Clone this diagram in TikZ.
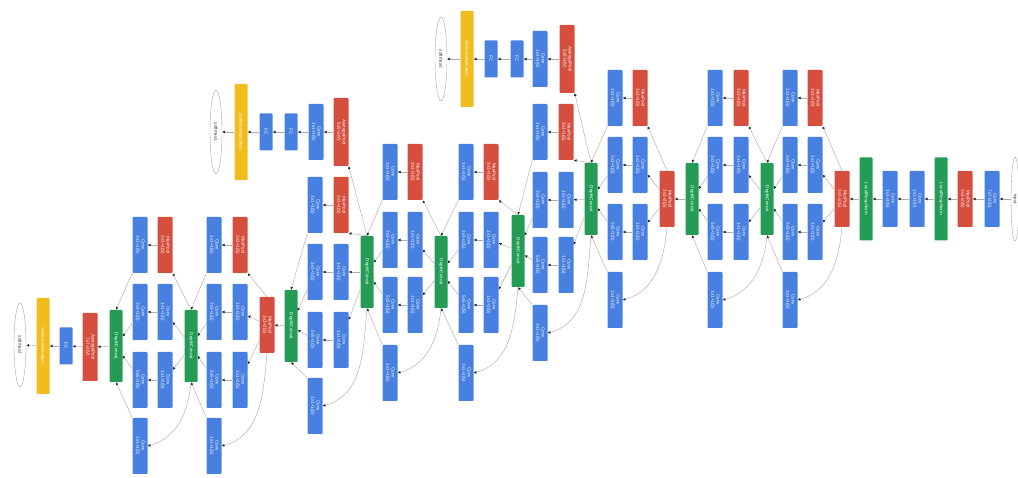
\documentclass[tikz,border=0pt]{standalone}
\usepackage{fontspec}
\setmainfont{Liberation Sans}
\usetikzlibrary{shapes.geometric,arrows.meta}
\definecolor{gblue}{RGB}{72,128,226}
\definecolor{gred}{RGB}{214,78,62}
\definecolor{ggreen}{RGB}{36,156,86}
\definecolor{gyellow}{RGB}{240,188,30}
\newcommand{\lbl}[2]{\rotatebox{-90}{\begin{tabular}{@{}c@{}}#1\\#2\end{tabular}}}
\newcommand{\lbx}[1]{\rotatebox{-90}{#1}}
\tikzset{
  lay/.style={rectangle, inner sep=0pt, minimum width=15pt, minimum height=56pt,
    text=white, font=\fontsize{4.5}{5.2}\selectfont, rounded corners=0.8pt},
  conv/.style={lay, fill=gblue},
  pool/.style={lay, fill=gred},
  concat/.style={lay, fill=ggreen, minimum width=13pt, minimum height=72pt},
  lrn/.style={lay, fill=ggreen, minimum width=13pt, minimum height=83pt},
  fc/.style={lay, fill=gblue, minimum width=13pt, minimum height=37pt},
  avg/.style={pool, minimum height=68pt},
  soft/.style={lay, fill=gyellow, minimum width=13pt, minimum height=96pt},
  io/.style={ellipse, draw=gray!70, line width=0.4pt, fill=white, inner sep=0pt,
    minimum width=12pt, minimum height=84pt, text=black!80, font=\fontsize{4.5}{5.2}\selectfont},
  e/.style={draw=gray!65, line width=0.45pt, -{Latex[length=2.8pt,width=2.8pt,color=black!85]}}
}
\newcommand{\incep}[9]{%
  \node[pool] (#1r1) at (#5,#6) {\lbl{MaxPool}{3x3+1(S)}};
  \node[conv] (#1r2) at (#5,#7) {\lbl{Conv}{1x1+1(S)}};
  \node[conv] (#1r3) at (#5,#8) {\lbl{Conv}{1x1+1(S)}};
  \node[conv] (#1l1) at (#4,#6) {\lbl{Conv}{1x1+1(S)}};
  \node[conv] (#1l2) at (#4,#7) {\lbl{Conv}{3x3+1(S)}};
  \node[conv] (#1l3) at (#4,#8) {\lbl{Conv}{5x5+1(S)}};
  \node[conv] (#1l4) at (#4,#9) {\lbl{Conv}{1x1+1(S)}};
  \draw[e] (#2.north) -- (#1r1.south east);
  \draw[e] (#2) -- (#1r2);
  \draw[e] (#2) -- (#1r3);
  \draw[e] (#2.south) to[out=-95,in=15] (#1l4.east);
  \draw[e] (#1r1) -- (#1l1);
  \draw[e] (#1r2) -- (#1l2);
  \draw[e] (#1r3) -- (#1l3);
  \draw[e] (#1l1.south west) -- (#3.north);
  \draw[e] (#1l2) -- (#3);
  \draw[e] (#1l3) -- (#3);
  \draw[e] (#1l4.north west) -- (#3.south);
}
\begin{document}
\begin{tikzpicture}[x=1pt,y=1pt]
\useasboundingbox (0,0) rectangle (1018,478);
% stem
\node[io, minimum width=8pt] (input) at (1015,279) {\lbx{input}};
\node[conv] (c7) at (992,279) {\lbl{Conv}{7x7+2(S)}};
\node[pool] (mp1) at (965,279) {\lbl{MaxPool}{3x3+2(S)}};
\node[lrn] (lrn1) at (941,279) {\lbx{LocalRespNorm}};
\node[conv] (cv1) at (917,279) {\lbl{Conv}{1x1+1(V)}};
\node[conv] (cv3) at (890,279) {\lbl{Conv}{3x3+1(S)}};
\node[lrn] (lrn2) at (866,279) {\lbx{LocalRespNorm}};
\node[pool] (mp2) at (842,279) {\lbl{MaxPool}{3x3+2(S)}};
% concat and pool nodes of the main line
\node[concat] (c3a) at (767,279) {\lbx{DepthConcat}};
\node[concat] (c3b) at (692,279) {\lbx{DepthConcat}};
\node[pool] (mp3) at (667,279) {\lbl{MaxPool}{3x3+2(S)}};
\node[concat] (c4a) at (591,279) {\lbx{DepthConcat}};
\node[concat] (c4b) at (518,227) {\lbx{DepthConcat}};
\node[concat] (c4c) at (441,206) {\lbx{DepthConcat}};
\node[concat] (c4d) at (367,206) {\lbx{DepthConcat}};
\node[concat] (c4e) at (291,152) {\lbx{DepthConcat}};
\node[pool] (mp4) at (267,153) {\lbl{MaxPool}{3x3+2(S)}};
\node[concat] (c5a) at (191,132) {\lbx{DepthConcat}};
\node[concat] (c5b) at (116,132) {\lbx{DepthConcat}};
\node[avg] (ap) at (90,131) {\lbl{AveragePool}{7x7+1(V)}};
\node[fc] (fc) at (66,132) {\lbx{FC}};
\node[soft] (sm) at (43,132) {\lbx{SoftmaxActivation}};
\node[io] (out) at (20,133) {\lbx{softmax2}};
% stem edges
\draw[e] (input) -- (c7);
\draw[e] (c7) -- (mp1);
\draw[e] (mp1) -- (lrn1);
\draw[e] (lrn1) -- (cv1);
\draw[e] (cv1) -- (cv3);
\draw[e] (cv3) -- (lrn2);
\draw[e] (lrn2) -- (mp2);
\draw[e] (c3b) -- (mp3);
\draw[e] (c4e) -- (mp4);
\draw[e] (c5b) -- (ap);
\draw[e] (ap) -- (fc);
\draw[e] (fc) -- (sm);
\draw[e] (sm) -- (out);
% inception modules
\incep{i3a}{mp2}{c3a}{790}{815}{380}{313}{246}{178}
\incep{i3b}{c3a}{c3b}{715}{741}{380}{313}{246}{178}
\incep{i4a}{mp3}{c4a}{615}{640}{380}{313}{246}{178}
\incep{i4b}{c4a}{c4b}{540}{566}{346}{278}{213}{145}
\incep{i4c}{c4b}{c4c}{466}{491}{306}{238}{173}{105}
\incep{i4d}{c4c}{c4d}{390}{415}{306}{238}{173}{105}
\incep{i4e}{c4d}{c4e}{315}{341}{273}{206}{138}{72}
\incep{i5a}{mp4}{c5a}{214}{240}{233}{166}{98}{32}
\incep{i5b}{c5a}{c5b}{140}{165}{233}{166}{98}{32}
% auxiliary classifier 0
\node[avg] (a0p) at (567,419) {\lbl{AveragePool}{5x5+3(V)}};
\node[conv] (a0c) at (540,419) {\lbl{Conv}{1x1+1(S)}};
\node[fc] (a0f1) at (517,419) {\lbx{FC}};
\node[fc] (a0f2) at (491,419) {\lbx{FC}};
\node[soft] (a0s) at (467,419) {\lbx{SoftmaxActivation}};
\node[io] (a0o) at (441,419) {\lbx{softmax0}};
\draw[e] (c4a.north) -- (a0p.south east);
\draw[e] (a0p) -- (a0c);
\draw[e] (a0c) -- (a0f1);
\draw[e] (a0f1) -- (a0f2);
\draw[e] (a0f2) -- (a0s);
\draw[e] (a0s) -- (a0o);
% auxiliary classifier 1
\node[avg] (a1p) at (341,346) {\lbl{AveragePool}{5x5+3(V)}};
\node[conv] (a1c) at (316,346) {\lbl{Conv}{1x1+1(S)}};
\node[fc] (a1f1) at (291,346) {\lbx{FC}};
\node[fc] (a1f2) at (266,346) {\lbx{FC}};
\node[soft] (a1s) at (241,346) {\lbx{SoftmaxActivation}};
\node[io] (a1o) at (216,346) {\lbx{softmax1}};
\draw[e] (c4d.north) -- (a1p.south east);
\draw[e] (a1p) -- (a1c);
\draw[e] (a1c) -- (a1f1);
\draw[e] (a1f1) -- (a1f2);
\draw[e] (a1f2) -- (a1s);
\draw[e] (a1s) -- (a1o);
\end{tikzpicture}
\end{document}
